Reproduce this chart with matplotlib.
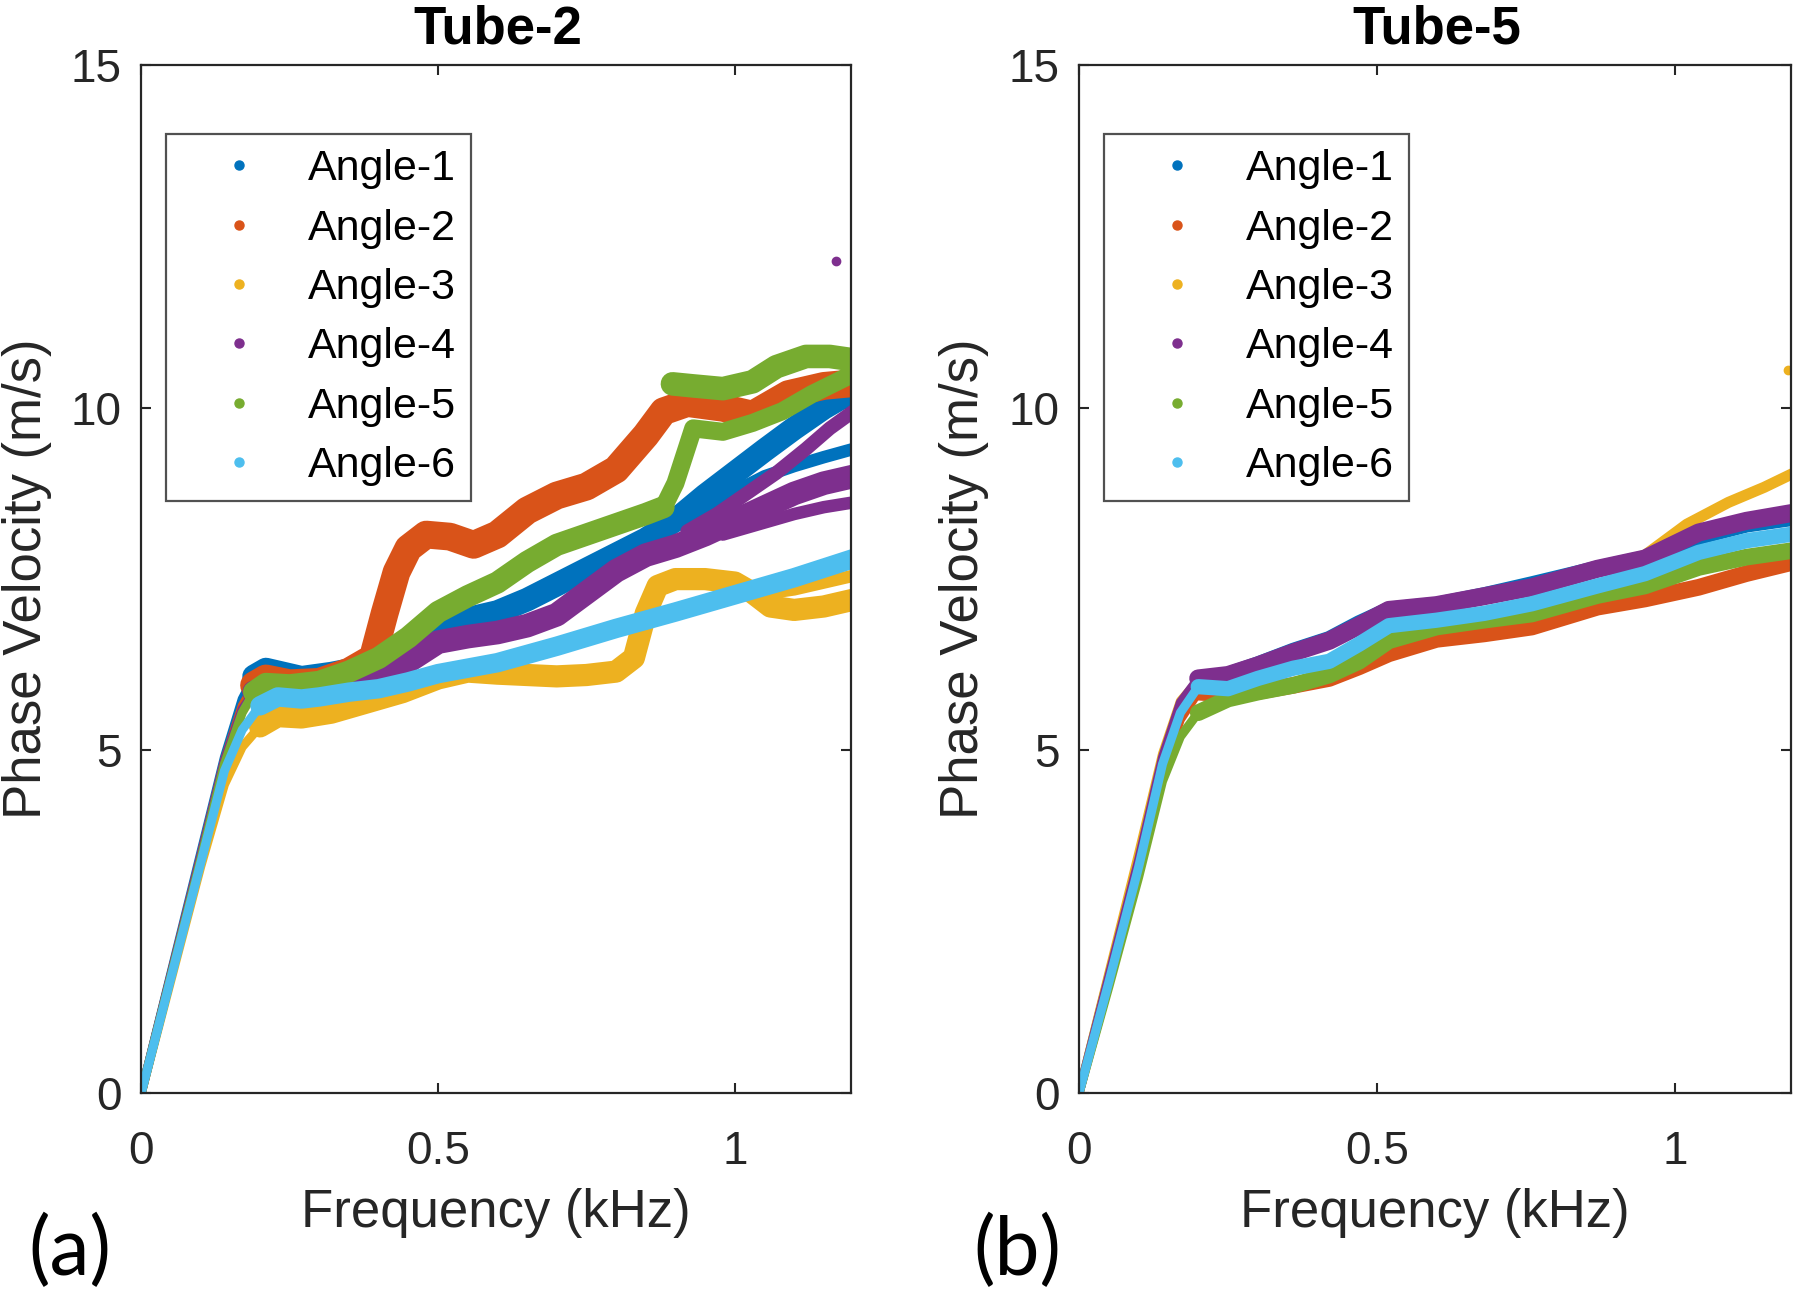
import matplotlib
matplotlib.use("Agg")
import matplotlib.pyplot as plt
from matplotlib.lines import Line2D
import numpy as np

plt.rcParams['font.family'] = ['Liberation Sans', 'DejaVu Sans']

angles = ['Angle-1', 'Angle-2', 'Angle-3', 'Angle-4', 'Angle-5', 'Angle-6']
colors = ['#0072BD', '#D95319', '#EDB120', '#7E2F8E', '#77AC30', '#4DBEEE']
titles = ['Tube-2', 'Tube-5']
panel_labels = ['(a)', '(b)']
xticks = [0, 0.5, 1]
xticklabels = ['0', '0.5', '1']
yticks = [0, 5, 10, 15]
yticklabels = ['0', '5', '10', '15']

# ---------------- Tube-2 ----------------
t2_a1_f = [0, 0.05, 0.10, 0.14, 0.17, 0.19, 0.21, 0.24, 0.27, 0.32, 0.38, 0.44, 0.50, 0.55, 0.60, 0.65,
           0.70, 0.75, 0.80, 0.85, 0.90, 0.95, 1.00, 1.05, 1.10, 1.15, 1.20]
t2_a1_v = [0, 1.75, 3.50, 4.90, 5.75, 6.08, 6.18, 6.12, 6.06, 6.12, 6.22, 6.45, 6.82, 6.92, 7.02, 7.20,
           7.42, 7.64, 7.86, 8.08, 8.36, 8.72, 9.05, 9.38, 9.70, 10.00, 10.25]
t2_a1b_f = [0.90, 0.95, 1.00, 1.05, 1.10, 1.15, 1.20]
t2_a1b_v = [8.30, 8.55, 8.78, 9.00, 9.15, 9.28, 9.40]

t2_a2_f = [0, 0.05, 0.10, 0.14, 0.17, 0.19, 0.21, 0.25, 0.30, 0.35, 0.39, 0.41, 0.43, 0.45, 0.48, 0.52,
           0.56, 0.60, 0.65, 0.70, 0.75, 0.80, 0.85, 0.88, 0.92, 0.98, 1.03, 1.09, 1.15, 1.20]
t2_a2_v = [0, 1.72, 3.45, 4.85, 5.65, 5.95, 6.05, 5.98, 6.00, 6.15, 6.35, 7.00, 7.60, 7.95, 8.15, 8.12,
           8.00, 8.15, 8.50, 8.72, 8.85, 9.10, 9.60, 9.95, 10.07, 10.00, 9.90, 10.20, 10.32, 10.36]

t2_a3_f = [0, 0.05, 0.10, 0.14, 0.17, 0.20, 0.23, 0.27, 0.32, 0.38, 0.44, 0.50, 0.55, 0.60, 0.65, 0.70,
           0.75, 0.80, 0.83, 0.85, 0.87, 0.90, 0.95, 1.00, 1.03, 1.06, 1.10, 1.15, 1.20]
t2_a3_v = [0, 1.65, 3.30, 4.50, 5.05, 5.35, 5.50, 5.48, 5.55, 5.70, 5.85, 6.05, 6.15, 6.12, 6.10, 6.08,
           6.10, 6.15, 6.35, 7.00, 7.40, 7.50, 7.50, 7.45, 7.30, 7.10, 7.05, 7.10, 7.20]
t2_a3b_f = [1.06, 1.10, 1.15, 1.20]
t2_a3b_v = [7.30, 7.35, 7.45, 7.55]

t2_a4_f = [0, 0.05, 0.10, 0.14, 0.17, 0.19, 0.22, 0.26, 0.30, 0.35, 0.40, 0.45, 0.50, 0.55, 0.60, 0.65,
           0.70, 0.75, 0.80, 0.85, 0.90, 0.95, 1.00, 1.05, 1.10, 1.15, 1.20]
t2_a4_v = [0, 1.72, 3.45, 4.85, 5.60, 5.85, 5.92, 5.88, 5.92, 6.00, 6.10, 6.30, 6.58, 6.66, 6.72, 6.82,
           6.98, 7.30, 7.62, 7.85, 7.98, 8.15, 8.35, 8.55, 8.75, 8.90, 9.00]
t2_a4b_f = [0.92, 0.97, 1.02, 1.07, 1.12, 1.16, 1.20]
t2_a4b_v = [8.20, 8.45, 8.75, 9.05, 9.40, 9.70, 9.95]
t2_a4c_f = [0.98, 1.04, 1.10, 1.15, 1.20]
t2_a4c_v = [8.15, 8.30, 8.45, 8.55, 8.62]
t2_a4_out_f = [1.17]
t2_a4_out_v = [12.14]

t2_a5_f = [0, 0.05, 0.10, 0.14, 0.17, 0.19, 0.21, 0.25, 0.30, 0.35, 0.40, 0.45, 0.50, 0.55, 0.60, 0.65,
           0.70, 0.75, 0.80, 0.85, 0.88]
t2_a5_v = [0, 1.70, 3.40, 4.80, 5.55, 5.85, 5.97, 5.95, 6.00, 6.15, 6.35, 6.65, 7.02, 7.25, 7.45, 7.75,
           8.00, 8.15, 8.30, 8.45, 8.55]
t2_a5b_f = [0.895, 0.93, 0.98, 1.03, 1.07, 1.12, 1.16, 1.20]
t2_a5b_v = [10.35, 10.32, 10.28, 10.38, 10.60, 10.75, 10.75, 10.70]
t2_a5c_f = [0.88, 0.90, 0.915, 0.93, 0.98, 1.03, 1.08, 1.13, 1.20]
t2_a5c_v = [8.55, 8.90, 9.30, 9.70, 9.65, 9.78, 9.95, 10.20, 10.50]

t2_a6_f = [0, 0.05, 0.10, 0.14, 0.17, 0.20, 0.23, 0.27, 0.30, 0.35, 0.40, 0.45, 0.50, 0.55, 0.60, 0.70,
           0.80, 0.90, 1.00, 1.10, 1.20]
t2_a6_v = [0, 1.68, 3.35, 4.70, 5.30, 5.65, 5.78, 5.75, 5.78, 5.85, 5.90, 6.00, 6.12, 6.20, 6.28, 6.52,
           6.78, 7.02, 7.27, 7.52, 7.80]

# ---------------- Tube-5 ----------------
t5_f = [0, 0.05, 0.10, 0.14, 0.17, 0.20, 0.25, 0.30, 0.36, 0.42, 0.47, 0.52, 0.60, 0.68, 0.76, 0.87,
        0.95, 1.04, 1.12, 1.20]
t5_a1_v = [0, 1.72, 3.42, 4.90, 5.68, 6.02, 6.10, 6.25, 6.45, 6.62, 6.85, 7.05, 7.12, 7.26, 7.42, 7.65,
           7.80, 8.12, 8.30, 8.40]
t5_a2_v = [0, 1.60, 3.25, 4.70, 5.45, 5.85, 5.82, 5.86, 5.95, 6.05, 6.22, 6.41, 6.62, 6.70, 6.80, 7.09,
           7.21, 7.38, 7.58, 7.75]
t5_a3_f = [0, 0.05, 0.10, 0.14, 0.17, 0.20, 0.25, 0.30, 0.36, 0.42, 0.47, 0.52, 0.60, 0.68, 0.76, 0.87,
           0.95, 1.02, 1.09, 1.15, 1.20]
t5_a3_v = [0, 1.75, 3.50, 4.95, 5.72, 6.02, 6.08, 6.22, 6.42, 6.58, 6.80, 7.02, 7.10, 7.22, 7.35, 7.62,
           7.85, 8.30, 8.62, 8.84, 9.05]
t5_a3_out_f = [1.19]
t5_a3_out_v = [10.55]
t5_a4_v = [0, 1.70, 3.40, 4.90, 5.70, 6.05, 6.10, 6.24, 6.43, 6.60, 6.82, 7.05, 7.12, 7.25, 7.38, 7.65,
           7.80, 8.18, 8.35, 8.47]
t5_a5_v = [0, 1.55, 3.15, 4.55, 5.20, 5.55, 5.75, 5.85, 5.95, 6.10, 6.30, 6.60, 6.80, 6.90, 6.99, 7.26,
           7.40, 7.67, 7.82, 7.92]
t5_a6_v = [0, 1.62, 3.30, 4.80, 5.55, 5.93, 5.90, 6.05, 6.20, 6.30, 6.55, 6.82, 6.90, 7.00, 7.14, 7.40,
           7.58, 7.89, 8.06, 8.16]

TXT = '#262626'


def band(ax, f, v, color, lw, thin=6.5, knee=0.185):
    f = np.asarray(f, dtype=float)
    v = np.asarray(v, dtype=float)
    ax.plot(f, v, color=color, lw=thin, solid_capstyle='round', solid_joinstyle='round')
    m = f >= knee
    ax.plot(f[m], v[m], color=color, lw=lw, solid_capstyle='round', solid_joinstyle='round')


def sub(ax, f, v, color, lw):
    ax.plot(f, v, color=color, lw=lw, solid_capstyle='round', solid_joinstyle='round')


fig = plt.figure(figsize=(18, 12.98), dpi=100)
ax1 = fig.add_axes([0.0785, 0.158, 0.394, 0.7917])
ax2 = fig.add_axes([0.5995, 0.158, 0.3955, 0.7917])

# Tube-2
band(ax1, t2_a1_f, t2_a1_v, colors[0], 17)
sub(ax1, t2_a1b_f, t2_a1b_v, colors[0], 9)
band(ax1, t2_a2_f, t2_a2_v, colors[1], 20)
band(ax1, t2_a3_f, t2_a3_v, colors[2], 16)
sub(ax1, t2_a3b_f, t2_a3b_v, colors[2], 9)
band(ax1, t2_a4_f, t2_a4_v, colors[3], 17)
sub(ax1, t2_a4b_f, t2_a4b_v, colors[3], 10)
sub(ax1, t2_a4c_f, t2_a4c_v, colors[3], 9)
ax1.plot(t2_a4_out_f, t2_a4_out_v, 'o', color=colors[3], ms=6)
band(ax1, t2_a5_f, t2_a5_v, colors[4], 16)
sub(ax1, t2_a5b_f, t2_a5b_v, colors[4], 17)
sub(ax1, t2_a5c_f, t2_a5c_v, colors[4], 13)
band(ax1, t2_a6_f, t2_a6_v, colors[5], 14)

# Tube-5
band(ax2, t5_f, t5_a1_v, colors[0], 12)
band(ax2, t5_f, t5_a2_v, colors[1], 12)
band(ax2, t5_a3_f, t5_a3_v, colors[2], 8)
ax2.plot(t5_a3_out_f, t5_a3_out_v, 'o', color=colors[2], ms=6)
band(ax2, t5_f, t5_a4_v, colors[3], 13)
band(ax2, t5_f, t5_a5_v, colors[4], 12)
band(ax2, t5_f, t5_a6_v, colors[5], 11)

handles = [Line2D([], [], marker='o', ls='none', color=c, ms=6.5) for c in colors]

for ax, title, pl, xl in zip([ax1, ax2], titles, panel_labels, [0.016, 0.5405]):
    ax.set_xlim(0, 1.195)
    ax.set_ylim(0, 15)
    ax.set_xticks(xticks)
    ax.set_xticklabels(xticklabels)
    ax.set_yticks(yticks)
    ax.set_yticklabels(yticklabels)
    ax.tick_params(direction='in', top=True, right=True, length=7, width=1.5,
                   colors=TXT, labelsize=33)
    ax.tick_params(axis='x', pad=27)
    ax.tick_params(axis='y', pad=14)
    for s in ax.spines.values():
        s.set_color(TXT)
        s.set_linewidth(1.6)
    ax.set_xlabel('Frequency (kHz)', fontsize=38, color=TXT)
    ax.set_ylabel('Phase Velocity (m/s)', fontsize=38, color=TXT)
    ax.xaxis.set_label_coords(0.5, -0.093)
    ax.yaxis.set_label_coords(-0.126, 0.5)
    ax.text(0.503, 1.021, title, transform=ax.transAxes, ha='center', va='baseline',
            fontsize=38, fontweight='bold', color='black')
    leg = ax.legend(handles, angles, loc='upper left', bbox_to_anchor=(0.035, 0.933),
                    borderaxespad=0, fontsize=31, frameon=True, fancybox=False,
                    handlelength=2.7, handletextpad=0.25, borderpad=0.35, labelspacing=0.45)
    leg.get_frame().set_edgecolor(TXT)
    leg.get_frame().set_linewidth(1.6)
    for t in leg.get_texts():
        t.set_color('black')
    fig.text(xl, 0.018, pl, fontsize=58, family=['Lato', 'DejaVu Sans'], ha='left', va='baseline',
             color='black')

fig.savefig('out.png', dpi=100)
